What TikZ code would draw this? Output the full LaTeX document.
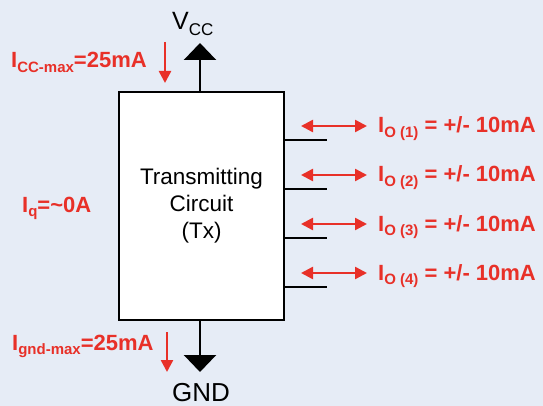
\documentclass[tikz,border=0pt]{standalone}
\usepackage{fontspec}
\setmainfont{Liberation Sans}
\usetikzlibrary{arrows.meta,positioning}
\definecolor{bgblue}{RGB}{230,236,246}
\definecolor{labelred}{RGB}{232,48,40}

\begin{document}
\begin{tikzpicture}[x=1pt,y=-1pt]
  \tikzset{
    supply arrow/.style={
      draw=black,
      line width=2.5pt,
      -{Triangle[width=32pt,length=17pt]},
    },
    current arrow/.style={
      draw=labelred,
      line width=2.5pt,
      -{Triangle[width=12pt,length=12pt]},
    },
    current both/.style={
      current arrow,
      {Triangle[width=12pt,length=12pt]}-{Triangle[width=12pt,length=12pt]},
    },
    current label/.style={
      text=labelred,
      font=\fontsize{22}{24}\selectfont\bfseries,
      inner sep=0pt,
      anchor=base west,
    },
    pin line/.style={draw=black, line width=2.5pt},
  }
  \newcommand{\lowsub}[1]{\raisebox{-0.4ex}{\fontsize{15}{15}\selectfont #1}}

  % background
  \fill[bgblue] (0,0) rectangle (543,406);

  \node[draw, line width=2pt, fill=white, minimum width=165pt,
        minimum height=228pt, inner sep=0pt, align=center,
        font=\fontsize{22.5}{27}\selectfont] (tx) at (201.5,206)
        {Transmitting\\Circuit\\(Tx)};

  % supply and ground
  \coordinate (vcctip) at (200,43);
  \draw[supply arrow] (tx.north -| vcctip) -- (vcctip);
  \node[anchor=base west, inner sep=0pt, font=\fontsize{25}{25}\selectfont]
        (vcc) at (172,30) {V\lowsub{\fontsize{17}{17}\selectfont CC}};
  \coordinate (gndtip) at (200,372);
  \draw[supply arrow] (tx.south -| gndtip) -- (gndtip);
  \node[anchor=base, inner sep=0pt, font=\fontsize{26}{26}\selectfont]
        (gnd) at (201,401) {GND};

  % supply currents
  \coordinate (iccA) at (165,42);
  \coordinate (iccB) at (165,83);
  \draw[current arrow] (iccA) -- (iccB);
  \node[current label] (icc) at (11,68) {I\lowsub{CC-max}=25mA};
  \coordinate (igndA) at (167,332);
  \coordinate (igndB) at (167,372);
  \draw[current arrow] (igndA) -- (igndB);
  \node[current label] (ignd) at (12,350) {I\lowsub{gnd-max}=25mA};
  \node[current label] (iq) at (22,212) {I\lowsub{q}=\textasciitilde0A};

  % outputs
  \foreach \k/\y in {1/140,2/189,3/238,4/287} {
    \coordinate (pin\k) at (327,\y);
    \draw[pin line] (tx.east |- pin\k) -- (pin\k);
    \coordinate (ioL\k) at (301,\y-14);
    \coordinate (ioR\k) at (367,\y-14);
    \draw[current both] (ioL\k) -- (ioR\k);
    \node[current label] (io\k) at (378,\y-7) {I\lowsub{O (\k)} = +/- 10mA};
  }
\end{tikzpicture}
\end{document}
